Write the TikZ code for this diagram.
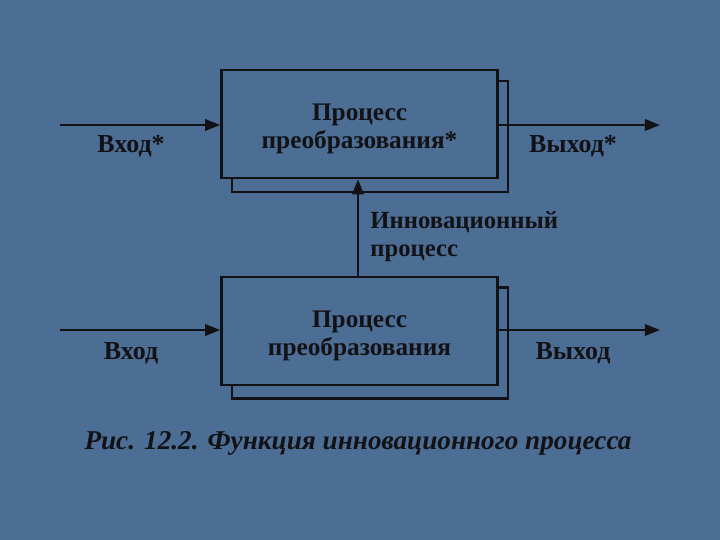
\documentclass[tikz,border=0pt]{standalone}
\usepackage{fontspec}
\setmainfont{Liberation Serif}
\usetikzlibrary{arrows.meta}
\definecolor{fond}{RGB}{76,110,148}
\definecolor{encre}{RGB}{18,18,22}
\begin{document}
\begin{tikzpicture}[x=0.02778cm,y=-0.02778cm,
    boite/.style={draw=encre, line width=1.9pt, fill=fond, minimum width=276*0.02778cm, minimum height=108*0.02778cm, align=center, font=\fontsize{20}{22}\selectfont\bfseries, text=encre},
    ombre/.style={draw=encre, line width=1.9pt, fill=fond, minimum width=276*0.02778cm, minimum height=111*0.02778cm},
    fleche/.style={draw=encre, line width=1.9pt, -{Triangle[length=12pt,width=9pt]}},
    etiq/.style={font=\fontsize{20.5}{22}\selectfont\bfseries, text=encre}]
% fond de la diapositive
\fill[fond] (0,0) rectangle (720,540);
\useasboundingbox (0,0) rectangle (720,540);

% processus avec innovation (haut)
\node[ombre] (ombreH) at (370,136.5) {};
\node[boite] (procH) at (359.5,124) {\rule{0pt}{21pt}Процесс\\преобразования*};
% processus initial (bas)
\node[ombre] (ombreB) at (370,343) {};
\node[boite] (procB) at (359.5,331) {\rule{0pt}{21pt}Процесс\\преобразования};

% entrees et sorties
\coordinate (entH) at (60,125);
\coordinate (sorH) at (660,125);
\coordinate (entB) at (60,330);
\coordinate (sorB) at (660,330);
\draw[fleche] (entH) -- (procH.west |- entH);
\draw[fleche] (procH.east |- sorH) -- (sorH);
\draw[fleche] (entB) -- (procB.west |- entB);
\draw[fleche] (procB.east |- sorB) -- (sorB);
\draw[fleche] (procB.north -| 358,0) -- (procH.south -| 358,0);

\node[etiq] (lEntH) at (131,146) {Вход*};
\node[etiq] (lSorH) at (573,146) {Выход*};
\node[etiq] (lEntB) at (131,353) {Вход};
\node[etiq] (lSorB) at (573,353) {Выход};
\node[etiq, font=\fontsize{19.5}{22}\selectfont\bfseries, anchor=west, align=left] (lInno) at (366,237) {Инновационный\\процесс};

% legende
\node[font=\fontsize{21.5}{24}\selectfont\bfseries\itshape, text=encre] (legende) at (358,443) {Рис. 12.2. Функция инновационного процесса};
\end{tikzpicture}
\end{document}
